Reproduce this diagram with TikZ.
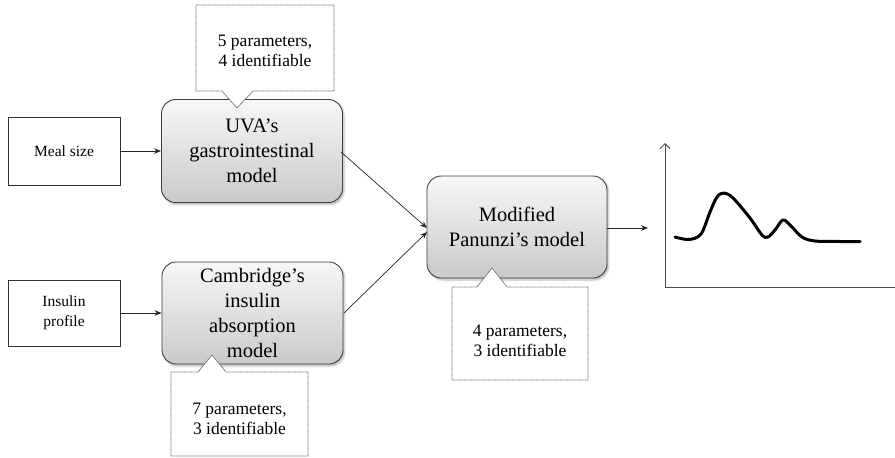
\documentclass[tikz,border=0pt]{standalone}
\usepackage{fontspec}
\setmainfont{Liberation Serif}
\usetikzlibrary{arrows.meta,shadows.blur}
\begin{document}
\begin{tikzpicture}[x=1pt,y=-1pt,
  inbox/.style={draw=black!80,line width=0.8pt,fill=white,minimum width=112pt,inner sep=0pt,align=center,font=\fontsize{15.5}{20}\selectfont},
  model/.style={draw=black!75,line width=0.9pt,rounded corners=14pt,top color=gray!6,bottom color=gray!42,
     minimum width=181pt,minimum height=103pt,inner sep=0pt,align=center,font=\fontsize{20.5}{25}\selectfont,
     blur shadow={shadow xshift=1.5pt,shadow yshift=-2pt,shadow blur steps=4,shadow opacity=30}},
  callout/.style={draw=black!60,line width=0.8pt,dash pattern=on 0.7pt off 0.5pt,fill=white},
  ctext/.style={align=center,inner sep=0pt,font=\fontsize{17.5}{20}\selectfont},
  conn/.style={line width=0.7pt,draw=black!85,-{Stealth[length=7pt,width=5.5pt]}},
  axis/.style={line width=0.9pt,draw=black!70}
]
\useasboundingbox (0,0) rectangle (895,458);

% input boxes
\node[inbox,minimum height=68pt] (meal) at (64,151) {Meal size};
\node[inbox,minimum height=66pt] (ins) at (64,313) {Insulin\\profile};

% model boxes
\node[model] (uva) at (252,151) {UVA's\\gastrointestinal\\model};
\node[model,minimum height=102pt] (cam) at (252.5,313) {Cambridge's\\insulin\\absorption\\model};
\node[model,minimum width=180pt,minimum height=102pt] (pan) at (517,227) {Modified\\Panunzi's model};

% connectors
\draw[conn] (meal.east) -- (uva.west);
\draw[conn] (ins.east) -- (cam.west);
\coordinate (panin1) at (427,228);
\coordinate (panin2) at (427,232);
\draw[conn] (341,152) -- (panin1);
\draw[conn] (344,313) -- (panin2);
\coordinate (gin) at (648,228);
\draw[conn] (pan.east |- gin) -- (gin);

% callouts
\coordinate (c1tip) at (237,108);
\draw[callout] (196,5) -- (334,5) -- (334,91) -- (253,91) -- (c1tip) -- (222,91) -- (196,91) -- cycle;
\node[ctext] (t1) at (265,51) {5 parameters,\\4 identifiable};

\coordinate (c2tip) at (212,355);
\draw[callout] (171,372) -- (198,372) -- (c2tip) -- (226,372) -- (308,372) -- (308,456) -- (171,456) -- cycle;
\node[ctext] (t2) at (239.5,419) {7 parameters,\\3 identifiable};

\coordinate (c3tip) at (492,268);
\draw[callout] (452,287) -- (477,287) -- (c3tip) -- (507,287) -- (588,287) -- (588,380) -- (452,380) -- cycle;
\node[ctext] (t3) at (520,341) {4 parameters,\\3 identifiable};

% graph
\coordinate (origin) at (665,287.5);
\coordinate (ytop) at (665,143);
\coordinate (xend) at (895,287.5);
\draw[axis,-{Straight Barb[length=5pt,width=10pt]}] (origin) -- (ytop);
\draw[axis] (origin) -- (xend);
\draw[line width=3pt,line cap=round,line join=round] plot[smooth,tension=0.55] coordinates
  {(675,237) (689,239.5) (701,234) (710,212) (717,197) (724,193) (733,198) (750,218) (762,235) (768,237) (775,230) (783,220) (791,226) (802,237) (815,241) (840,241.5) (860,241.5)};
\end{tikzpicture}
\end{document}
